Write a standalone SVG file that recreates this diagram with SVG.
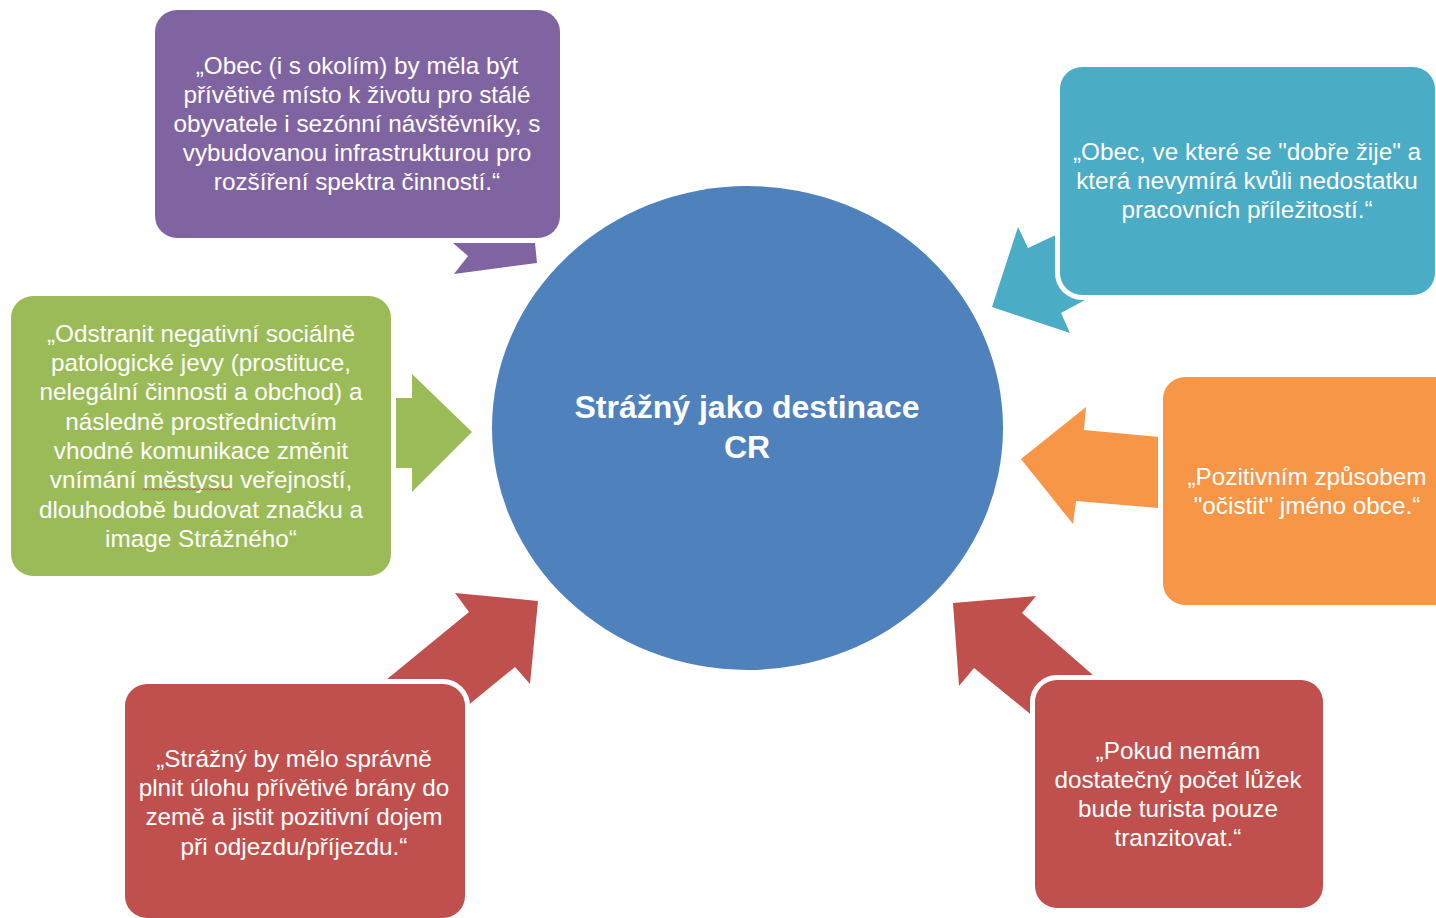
<svg xmlns="http://www.w3.org/2000/svg" width="1436" height="918" viewBox="0 0 1436 918">
<style>
.box{stroke:#ffffff;stroke-width:10;paint-order:stroke}
.t{font-family:"Liberation Sans",Arial,sans-serif;font-size:24.3px;fill:#ffffff;text-anchor:middle}
.title{font-family:"Liberation Sans",Arial,sans-serif;font-size:32px;font-weight:bold;fill:#ffffff;text-anchor:middle}
</style>
<rect width="1436" height="918" fill="#ffffff"/>
<g id="center">
<ellipse cx="747.5" cy="428" rx="255.5" ry="242" fill="#4F81BD"/>
<text class="title" x="747" y="418">Strážný jako destinace</text>
<text class="title" x="747" y="458">CR</text>
</g>
<g id="connectors">
<polygon points="453,243 535,243 537,263 454,274 468,256" fill="#8064A2"/>
<polygon points="992,307 1018,227 1028,248 1075,226 1080,290 1085,300 1061,313 1070,333" fill="#4BACC6"/>
<polygon points="380,398 412,398 412,374 472,432 412,492 412,468 380,468" fill="#9BBB59"/>
<polygon points="1021,459 1086,407 1084,430 1170,438 1170,509 1076,501 1073,524" fill="#F79646"/>
<polygon points="455,593 538,601 530,684 515,667 455,716 375,689 469,612" fill="#C0504D"/>
<polygon points="953,603 1036,596 1022,613 1110,690 1045,726 974,668 959,686" fill="#C0504D"/>
</g>
<g id="node-purple">
<rect class="box" x="155" y="10" width="405" height="228" rx="22" fill="#8064A2"/>
<text class="t" x="357" y="74">„Obec (i s okolím) by měla být</text>
<text class="t" x="357" y="103">přívětivé místo k životu pro stálé</text>
<text class="t" x="357" y="132">obyvatele i sezónní návštěvníky, s</text>
<text class="t" x="357" y="161">vybudovanou infrastrukturou pro</text>
<text class="t" x="357" y="190">rozšíření spektra činností.“</text>
</g>
<g id="node-teal">
<rect class="box" x="1060" y="67" width="375" height="228" rx="22" fill="#4BACC6"/>
<text class="t" x="1247" y="160">„Obec, ve které se "dobře žije" a</text>
<text class="t" x="1247" y="189">která nevymírá kvůli nedostatku</text>
<text class="t" x="1247" y="218">pracovních příležitostí.“</text>
</g>
<g id="node-green">
<rect class="box" x="11" y="296" width="380" height="280" rx="22" fill="#9BBB59"/>
<text class="t" x="201" y="342">„Odstranit negativní sociálně</text>
<text class="t" x="201" y="371">patologické jevy (prostituce,</text>
<text class="t" x="201" y="400">nelegální činnosti a obchod) a</text>
<text class="t" x="201" y="430">následně prostřednictvím</text>
<text class="t" x="201" y="459">vhodné komunikace změnit</text>
<text class="t" x="201" y="488">vnímání městysu veřejností,</text>
<text class="t" x="201" y="518">dlouhodobě budovat značku a</text>
<text class="t" x="201" y="547">image Strážného“</text>
<path d="M142,490 l2,-1.5 l2,1.5 l2,-1.5 l2,1.5 l2,-1.5 l2,1.5 l2,-1.5 l2,1.5 l2,-1.5 l2,1.5 l2,-1.5 l2,1.5 l2,-1.5 l2,1.5 l2,-1.5 l2,1.5 l2,-1.5 l2,1.5 l2,-1.5 l2,1.5 l2,-1.5 l2,1.5 l2,-1.5 l2,1.5 l2,-1.5 l2,1.5 l2,-1.5 l2,1.5 l2,-1.5 l2,1.5 l2,-1.5 l2,1.5 l2,-1.5 l2,1.5 l2,-1.5 l2,1.5 l2,-1.5 l2,1.5 l2,-1.5 l2,1.5 l2,-1.5 l2,1.5 l2,-1.5 l2,1.5" fill="none" stroke="#E05050" stroke-width="1"/>
</g>
<g id="node-orange">
<rect class="box" x="1163" y="377" width="300" height="228" rx="22" fill="#F79646"/>
<text class="t" x="1307" y="485">„Pozitivním způsobem</text>
<text class="t" x="1307" y="514">"očistit" jméno obce.“</text>
</g>
<g id="node-red-left">
<rect class="box" x="125" y="684" width="340" height="234" rx="22" fill="#C0504D"/>
<text class="t" x="294" y="767">„Strážný by mělo správně</text>
<text class="t" x="294" y="796">plnit úlohu přívětivé brány do</text>
<text class="t" x="294" y="825">země a jistit pozitivní dojem</text>
<text class="t" x="294" y="855">při odjezdu/příjezdu.“</text>
</g>
<g id="node-red-right">
<rect class="box" x="1035" y="680" width="288" height="228" rx="22" fill="#C0504D"/>
<text class="t" x="1178" y="759">„Pokud nemám</text>
<text class="t" x="1178" y="788">dostatečný počet lůžek</text>
<text class="t" x="1178" y="817">bude turista pouze</text>
<text class="t" x="1178" y="846">tranzitovat.“</text>
</g>
</svg>
